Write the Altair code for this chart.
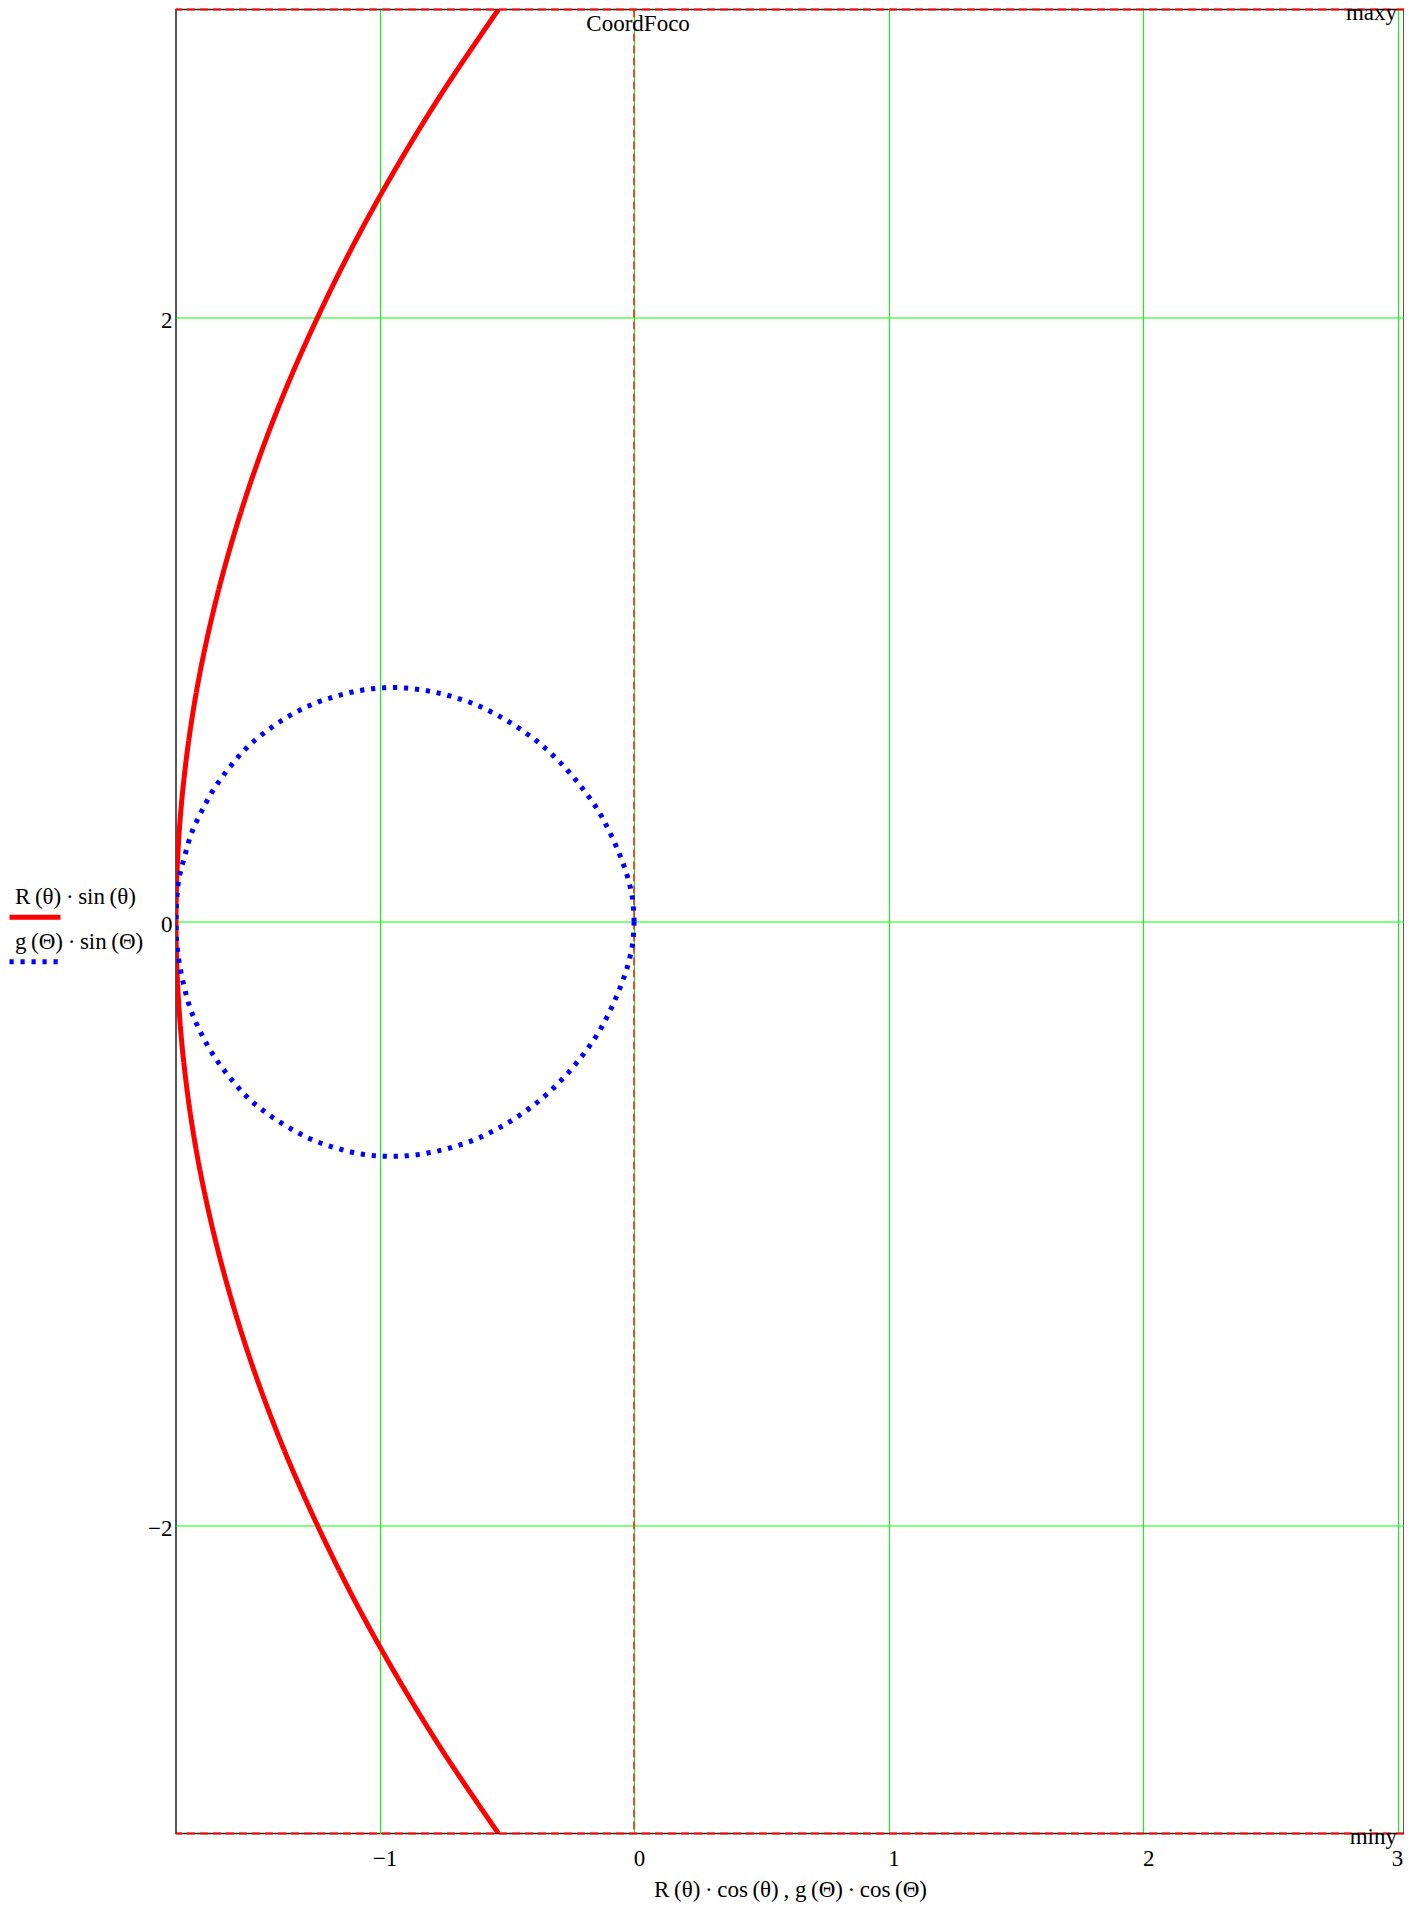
import altair as alt
import pandas as pd

FONT = "Liberation Serif"

# axis ranges (maxy / miny and the x extent)
X_MIN, X_MAX = -1.8, 3.025
Y_MIN, Y_MAX = -3.02, 3.02
x_ticks = [-1, 0, 1, 2, 3]
y_ticks = [-2, 0, 2]

R_LABEL = "R\u2009(θ)\u2009·\u2009sin\u2009(θ)"
G_LABEL = "g\u2009(Θ)\u2009·\u2009sin\u2009(Θ)"
X_TITLE = "R\u2009(θ)\u2009·\u2009cos\u2009(θ)\u2009, g\u2009(Θ)\u2009·\u2009cos\u2009(Θ)"
series_ids = ["R", "g"]
series_labels = [R_LABEL, G_LABEL]
series_colors = ["#ff0000", "#0000ff"]

# red curve  R(θ)·cos(θ), R(θ)·sin(θ)
red_x = [-0.533, -0.750, -0.932, -1.097, -1.244, -1.375, -1.488, -1.583, -1.661,
         -1.722, -1.765, -1.791, -1.800, -1.791, -1.765, -1.722, -1.661, -1.583,
         -1.488, -1.375, -1.244, -1.097, -0.932, -0.750, -0.533]
red_y = [3.02, 2.75, 2.5, 2.25, 2.0, 1.75, 1.5, 1.25, 1.0, 0.75, 0.5, 0.25, 0.0,
         -0.25, -0.5, -0.75, -1.0, -1.25, -1.5, -1.75, -2.0, -2.25, -2.5, -2.75, -3.02]

# blue dotted curve  g(Θ)·cos(Θ), g(Θ)·sin(Θ)
blue_x = [0.0, -0.006, -0.026, -0.057, -0.096, -0.144, -0.207, -0.281, -0.366, -0.454,
          -0.543, -0.631, -0.720, -0.806, -0.894, -0.982, -1.071, -1.159, -1.247, -1.336,
          -1.424, -1.513, -1.589, -1.650, -1.700, -1.740, -1.766, -1.788, -1.797, -1.800,
          -1.797, -1.786, -1.768, -1.743, -1.705, -1.655, -1.594, -1.518, -1.430, -1.341,
          -1.252, -1.163, -1.073, -0.983, -0.894, -0.806, -0.720, -0.631, -0.543, -0.454,
          -0.366, -0.281, -0.207, -0.144, -0.096, -0.057, -0.026, -0.006, 0.0]
blue_y = [0.0, 0.074, 0.148, 0.222, 0.296, 0.371, 0.445, 0.518, 0.586, 0.641,
          0.686, 0.721, 0.746, 0.763, 0.773, 0.774, 0.766, 0.749, 0.725, 0.690,
          0.643, 0.583, 0.511, 0.440, 0.364, 0.290, 0.216, 0.143, 0.071, 0.0,
          -0.071, -0.143, -0.216, -0.290, -0.364, -0.440, -0.511, -0.583, -0.643, -0.690,
          -0.727, -0.752, -0.770, -0.777, -0.776, -0.766, -0.749, -0.724, -0.689, -0.644,
          -0.589, -0.521, -0.448, -0.373, -0.298, -0.223, -0.149, -0.074, 0.0]

rows = []
for i, (xv, yv) in enumerate(zip(red_x, red_y)):
    rows.append({"series": "R", "label": R_LABEL, "i": i, "x": xv, "y": yv})
for i, (xv, yv) in enumerate(zip(blue_x, blue_y)):
    rows.append({"series": "g", "label": G_LABEL, "i": i, "x": xv, "y": yv})
curves_df = pd.DataFrame(rows)

xs = alt.Scale(domain=[X_MIN, X_MAX], nice=False, zero=False)
ys = alt.Scale(domain=[Y_MIN, Y_MAX], nice=False, zero=False)

x_axis = alt.Axis(values=x_ticks, title=X_TITLE, grid=True, domain=False, ticks=False,
                  labelPadding=14, labelOffset=5, labelFlush=False, labelOverlap=False,
                  labelAlign={"condition": {"test": "datum.value >= 3", "value": "right"}, "value": "center"},
                  titlePadding=8)
y_axis = alt.Axis(values=y_ticks, title=None, grid=True, domain=False, ticks=False,
                  labelPadding=4, labelOffset=3, labelFlush=False, labelOverlap=False)


def X(field="x"):
    return alt.X(f"{field}:Q", scale=xs, axis=x_axis)


def Y(field="y"):
    return alt.Y(f"{field}:Q", scale=ys, axis=y_axis)


# legend: line samples (one legend, no texts) and their texts (a second legend) above them
sym_legend = alt.Legend(orient="none", legendX=-169, legendY=879.7, title=None,
                        symbolType="stroke", symbolSize=2601, symbolStrokeWidth=5,
                        labelExpr="''", labelFontSize=1, labelOpacity=0,
                        rowPadding=6.5, padding=0)
lab_legend = alt.Legend(orient="none", legendX=-184, legendY=876, title=None,
                        symbolType="stroke", symbolSize=0, symbolStrokeWidth=0,
                        labelOffset=0, rowPadding=20.5, padding=0)

# focus line (CoordFoco) at x = 0
focus_df = pd.DataFrame({"x": [0.0]})
focus = alt.Chart(focus_df).mark_rule(color="#c8501e", strokeWidth=2, strokeDash=[8, 4]).encode(x=X())

curves = alt.Chart(curves_df).mark_line(
    strokeWidth=5, strokeCap="butt", strokeJoin="round", clip=True, interpolate="catmull-rom"
).encode(
    x=X(), y=Y(),
    color=alt.Color("series:N", scale=alt.Scale(domain=series_ids, range=series_colors), legend=sym_legend),
    strokeDash=alt.StrokeDash("series:N", scale=alt.Scale(domain=series_ids, range=[[1, 0], [4.2, 6.8]]), legend=sym_legend),
    opacity=alt.Opacity("label:N", scale=alt.Scale(domain=series_labels, range=[1, 1]), legend=lab_legend),
    order=alt.Order("i:Q"),
)

# maxy / miny lines
lim_df = pd.DataFrame({"y": [Y_MAX, Y_MIN]})
limits = alt.Chart(lim_df).mark_rule(color="#ff0000", strokeWidth=2, strokeDash=[8, 5]).encode(y=Y())

txt = dict(font=FONT, fontSize=23, color="black", baseline="alphabetic")
coord_txt = alt.Chart(pd.DataFrame({"x": [0.0], "y": [Y_MAX], "t": ["CoordFoco"]})).mark_text(
    align="center", dx=4, dy=21, **txt).encode(x=X(), y=Y(), text="t:N")
maxy_txt = alt.Chart(pd.DataFrame({"x": [X_MAX], "y": [Y_MAX], "t": ["maxy"]})).mark_text(
    align="right", dx=-7, dy=10, **txt).encode(x=X(), y=Y(), text="t:N")
miny_txt = alt.Chart(pd.DataFrame({"x": [X_MAX], "y": [Y_MIN], "t": ["miny"]})).mark_text(
    align="right", dx=-7, dy=10, **txt).encode(x=X(), y=Y(), text="t:N")

chart = alt.layer(focus, curves, limits, coord_txt, maxy_txt, miny_txt).properties(
    width=1228, height=1824,
    autosize=alt.AutoSizeParams(type="none"),
    padding={"left": 168, "top": 1.5, "right": 0, "bottom": 68},
    background="white",
).configure_view(
    stroke="#1e1e1e", strokeWidth=1.5
).configure_axis(
    labelFont=FONT, labelFontSize=23, labelColor="black",
    titleFont=FONT, titleFontSize=23, titleFontWeight="normal", titleColor="black",
    gridColor="#00ff00", gridWidth=1, gridOpacity=1,
).configure_legend(
    labelFont=FONT, labelFontSize=23, labelColor="black", labelLimit=500,
)

chart.save("out.html", embed_options={"renderer": "svg", "actions": False})
